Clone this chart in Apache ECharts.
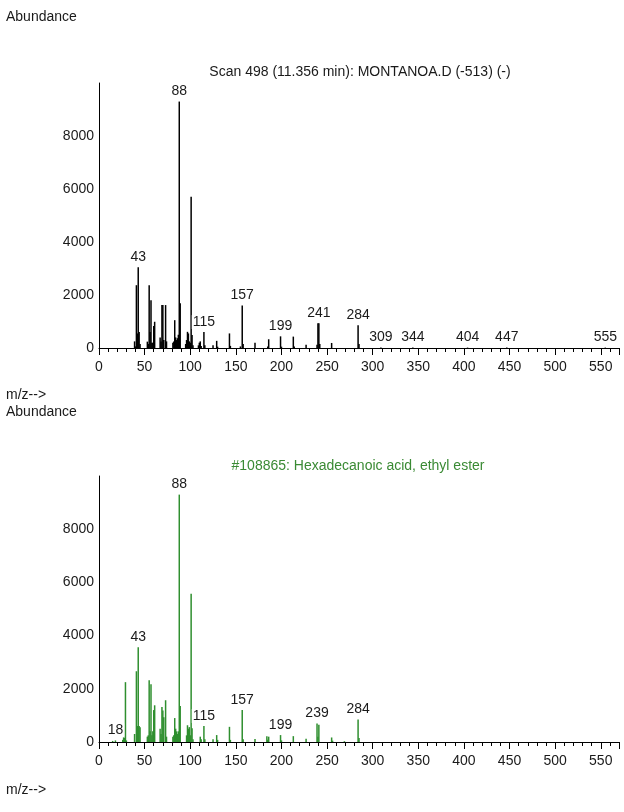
<!DOCTYPE html>
<html>
<head>
<meta charset="utf-8">
<script src="https://cdn.jsdelivr.net/npm/echarts@6/dist/echarts.min.js"></script>
<style>
html,body{margin:0;padding:0;background:#fff;}
#c{width:624px;height:812px;}
</style>
</head>
<body>
<div id="c"></div>
<script>
// ---- Data ----
const topTitle = 'Scan 498 (11.356 min): MONTANOA.D (-513) (-)';
const botTitle = '#108865: Hexadecanoic acid, ethyl ester';

const topMz = [39,40,41,42,43,44,45,53,54,55,56,57,58,59,60,61,67,68,69,70,71,73,74,81,82,83,84,85,86,87,88,89,95,96,97,98,99,100,101,102,103,109,110,111,112,115,116,125,129,130,143,144,155,157,158,171,185,186,199,200,213,214,227,239,240,241,242,255,284,285,309,344,404,447,555];
const topAb = [250,60,2370,550,3050,600,150,240,150,2370,600,1800,200,200,830,990,400,250,1620,1620,300,1620,250,200,250,1050,400,300,370,500,9300,1690,150,300,610,550,250,200,5710,490,100,100,200,250,80,600,100,100,270,50,550,80,60,1600,150,200,60,330,440,50,430,60,120,120,930,930,150,190,860,150,15,15,15,15,15];
const topLabeled = [43,88,115,157,199,241,284,309,344,404,447,555];

const botMz = [15,18,26,27,28,29,30,39,41,42,43,44,45,53,54,55,56,57,58,59,60,61,67,68,69,70,71,73,74,81,82,83,84,85,86,87,88,89,96,97,98,99,100,101,102,103,111,112,115,116,125,129,130,143,144,157,158,171,184,185,186,199,200,213,227,239,240,241,255,256,269,284,285];
const botAb = [40,60,80,200,150,2250,60,300,2660,600,3560,600,550,200,250,2320,400,2170,250,400,1200,1380,500,300,1320,1180,930,1570,200,200,250,900,500,400,300,400,9300,1350,250,630,500,560,250,5570,520,100,200,100,600,100,100,260,80,570,80,1200,100,110,220,80,200,260,60,220,120,700,200,650,170,50,30,850,150];
const botLabeled = [18,43,88,115,157,199,239,284];

const xMin = 0, xMax = 570, xMajor = 50, xMinor = 10;
const yMax = 10000, yStep = 2000;

const FONT = '"Liberation Sans", Arial, sans-serif';
const TXT = '#1a1a1a';
const GREEN = '#2f8f2f';

function makeData(mz, ab, labeled) {
  return mz.map((m, i) => {
    const item = { value: [m, ab[i]] };
    if (labeled.indexOf(m) >= 0) {
      item.label = { show: true };
    }
    return item;
  });
}

function minorAxis(g) {
  return {
    type: 'value', gridIndex: g, position: 'bottom', min: xMin, max: xMax, interval: xMinor,
    axisLine: { show: true, onZero: false, lineStyle: { color: '#000', width: 1 } },
    axisTick: { show: true, length: 4, lineStyle: { color: '#000' } },
    axisLabel: { show: false },
    splitLine: { show: false }
  };
}
function majorAxis(g) {
  return {
    type: 'value', gridIndex: g, position: 'bottom', offset: 0, min: xMin, max: xMax, interval: xMajor,
    axisLine: { show: false, onZero: false },
    axisTick: { show: true, length: 7, lineStyle: { color: '#000' } },
    axisLabel: {
      show: true, margin: 12, fontSize: 14, fontFamily: FONT, color: TXT,
      showMinLabel: true, showMaxLabel: true, hideOverlap: false,
      formatter: v => (v % xMajor === 0 ? String(v) : '')
    },
    splitLine: { show: false }
  };
}
function yAxis(g) {
  return {
    type: 'value', gridIndex: g, min: 0, max: yMax, interval: yStep,
    axisLine: { show: true, lineStyle: { color: '#000', width: 1 } },
    axisTick: { show: false },
    axisLabel: {
      margin: 5, fontSize: 14, fontFamily: FONT, color: TXT,
      formatter: v => (v >= yMax ? '' : String(v))
    },
    splitLine: { show: false }
  };
}
function barSeries(xi, yi, mz, ab, labeled, color) {
  return {
    type: 'bar', xAxisIndex: xi, yAxisIndex: yi,
    data: makeData(mz, ab, labeled),
    barWidth: 1.5,
    itemStyle: { color: color },
    label: {
      show: false, position: 'top', distance: 3,
      fontSize: 14, fontFamily: FONT, color: TXT,
      backgroundColor: '#fff', padding: [0, 1],
      formatter: p => String(p.value[0])
    },
    emphasis: { disabled: true },
    silent: true
  };
}

const chart = echarts.init(document.getElementById('c'), null, { renderer: 'canvas' });
chart.setOption({
  animation: false,
  backgroundColor: '#fff',
  grid: [
    { left: 99, right: 5, top: 83, height: 265 },
    { left: 99, right: 5, top: 476, height: 266 }
  ],
  xAxis: [minorAxis(0), majorAxis(0), minorAxis(1), majorAxis(1)],
  yAxis: [yAxis(0), yAxis(1)],
  series: [
    barSeries(0, 0, topMz, topAb, topLabeled, '#000'),
    barSeries(2, 1, botMz, botAb, botLabeled, GREEN)
  ],
  graphic: [
    { type: 'text', left: 6, top: 10, style: { text: 'Abundance', font: '14px ' + FONT, fill: TXT } },
    { type: 'text', x: 360, y: 72, style: { text: topTitle, font: '14px ' + FONT, fill: TXT, textAlign: 'center', textVerticalAlign: 'middle' } },
    { type: 'text', left: 6, top: 388, style: { text: 'm/z-->', font: '14px ' + FONT, fill: TXT } },
    { type: 'text', left: 6, top: 405, style: { text: 'Abundance', font: '14px ' + FONT, fill: TXT } },
    { type: 'text', x: 358, y: 466, style: { text: botTitle, font: '14px ' + FONT, fill: '#3a8a34', textAlign: 'center', textVerticalAlign: 'middle' } },
    { type: 'text', left: 6, top: 783, style: { text: 'm/z-->', font: '14px ' + FONT, fill: TXT } }
  ]
});
</script>
</body>
</html>
